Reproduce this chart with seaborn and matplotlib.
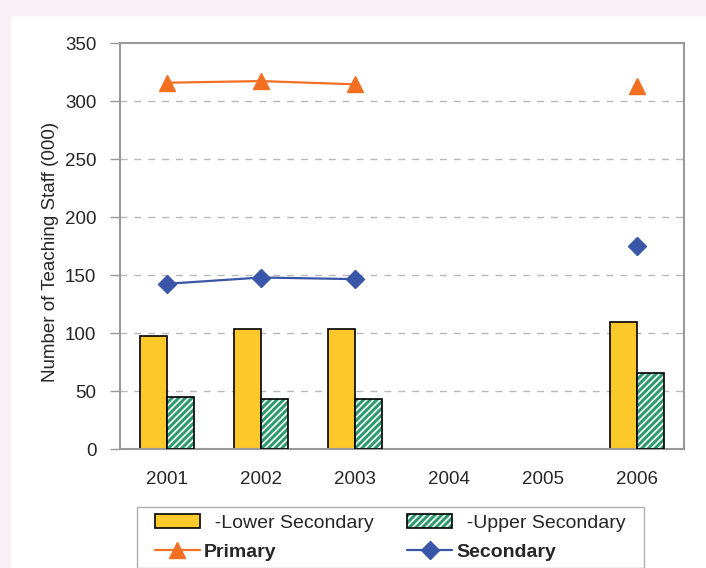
import numpy as np
import pandas as pd
import seaborn as sns
import matplotlib.pyplot as plt
from matplotlib.patches import Patch, Rectangle
from matplotlib.lines import Line2D
from matplotlib.colors import to_rgba

# data (thousands)
years = ['2001', '2002', '2003', '2004', '2005', '2006']
lower_sec = [97.2, 103.8, 103.8, np.nan, np.nan, 109.2]
upper_sec = [45.1, 42.7, 42.7, np.nan, np.nan, 65.3]
primary = [315.9, 317.3, 314.5, np.nan, np.nan, 313.3]
secondary = [142.5, 147.9, 146.5, np.nan, np.nan, 175.0]

yellow = '#fdc82a'
green = '#2e9a6e'
orange = '#f36f21'
blue = '#3a56a8'
spine_gray = '#9a9a9e'
fs = 13.5

sns.set_style('white')
plt.rcParams['font.family'] = ['Liberation Sans', 'DejaVu Sans']
plt.rcParams['hatch.linewidth'] = 1.2

df = pd.DataFrame({
    'year': years * 2,
    'value': lower_sec + upper_sec,
    'level': ['-Lower Secondary'] * 6 + ['-Upper Secondary'] * 6,
})

fig = plt.figure(figsize=(7.06, 5.68), dpi=100, facecolor='white')
# pinkish page frame on the left and top
fig.patches.append(Rectangle((0, 0), 10 / 706, 1, transform=fig.transFigure,
                             color='#f7f0f4', zorder=0))
fig.patches.append(Rectangle((0, 1 - 15 / 568), 1, 15 / 568, transform=fig.transFigure,
                             color='#f7f0f4', zorder=0))
ax = fig.add_axes([0.170, 0.2095, 0.799, 0.7145])

sns.barplot(data=df, x='year', y='value', hue='level', order=years,
            palette=[yellow, green], width=0.575, gap=0, saturation=1,
            edgecolor='black', linewidth=1.2, legend=False, ax=ax)

# green bars: white hatch, then black outline on top
green_rgba = to_rgba(green)
for p in list(ax.patches):
    if not np.allclose(p.get_facecolor(), green_rgba, atol=0.01):
        continue
    if np.isnan(p.get_height()) or p.get_height() == 0:
        continue
    p.set_hatch('/////')
    p.set_edgecolor('white')
    p.set_linewidth(0)
    ax.add_patch(Rectangle(p.get_xy(), p.get_width(), p.get_height(),
                           fill=False, edgecolor='black', linewidth=1.2, zorder=3))

x = np.arange(len(years))
ax.plot(x, primary, color=orange, lw=1.6, marker='^', ms=11, zorder=4)
ax.plot(x, secondary, color=blue, lw=1.6, marker='D', ms=9, zorder=4)

ax.set_xlim(-0.5, len(years) - 0.5)
ax.set_ylim(0, 350)
ax.set_yticks(range(0, 351, 50))
ax.set_xticks(x)
ax.set_xticklabels(years)
ax.set_xticks(np.arange(-0.5, len(years), 1), minor=True)
ax.tick_params(axis='x', which='major', length=0, labelsize=fs, pad=16)
ax.tick_params(axis='x', which='minor', direction='inout', length=12,
               color=spine_gray, width=1)
ax.tick_params(axis='y', direction='out', length=7, color=spine_gray, width=1,
               labelsize=fs, left=True, pad=10)
for v in range(50, 301, 50):
    ax.axhline(v, color='#b8b8b8', lw=1, ls=(0, (5, 5)), zorder=0)
for s in ax.spines.values():
    s.set_color(spine_gray)
    s.set_linewidth(1.5)
ax.set_xlabel('')
ax.set_ylabel('Number of Teaching Staff (000)', fontsize=fs)
ax.yaxis.set_label_coords(-0.108, 0.485)

handles = [
    Patch(facecolor=yellow, edgecolor='black', linewidth=1.2),
    Line2D([], [], color=orange, lw=1.6, marker='^', ms=11),
    (Patch(facecolor=green, edgecolor='white', hatch='/////', linewidth=0),
     Patch(fill=False, edgecolor='black', linewidth=1.2)),
    Line2D([], [], color=blue, lw=1.6, marker='D', ms=9),
]
labels = ['  -Lower Secondary', 'Primary', '  -Upper Secondary', 'Secondary']
leg = fig.legend(handles, labels, ncol=2, loc='lower left',
                 bbox_to_anchor=(155 / 706, 7 / 568),
                 fontsize=14, handlelength=2.3, handleheight=0.7,
                 columnspacing=1.75, handletextpad=0.2, borderpad=0,
                 borderaxespad=0, labelspacing=0.6, frameon=False)
for t in leg.get_texts():
    if not t.get_text().lstrip().startswith('-'):
        t.set_fontweight('bold')

# legend box: wider padding left/right than top/bottom, as in the original
fig.canvas.draw()
bb = leg.get_window_extent(fig.canvas.get_renderer())
fig.patches.append(Rectangle((bb.x0 - 18, bb.y0 - 7), bb.width + 36, bb.height + 14,
                             transform=None, fill=False, edgecolor='#b0b0b0',
                             linewidth=1, zorder=1))

fig.savefig('out.png', dpi=100, facecolor=fig.get_facecolor())
